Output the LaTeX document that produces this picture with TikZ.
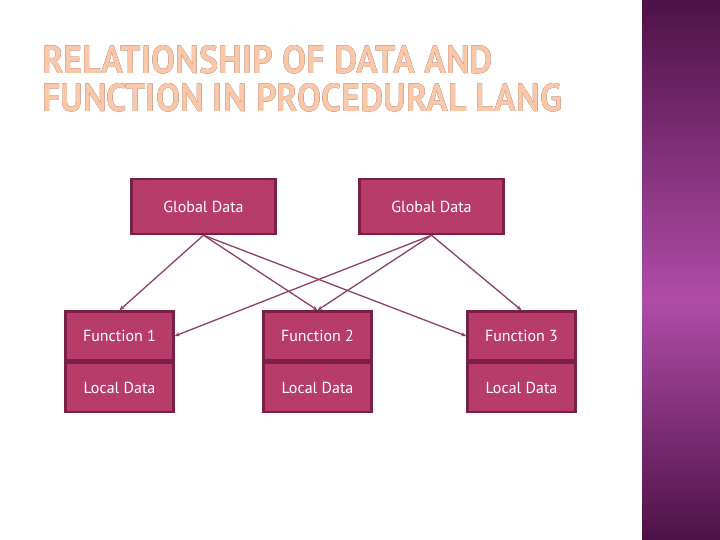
\documentclass[tikz,border=0pt]{standalone}
\usepackage{fontspec}
\setmainfont{PT Sans}
\usepackage[outline]{contour}
\contourlength{0.6pt}
\usetikzlibrary{arrows.meta}
\definecolor{boxfill}{HTML}{B83C6A}
\definecolor{boxline}{HTML}{7A2048}
\definecolor{peach}{HTML}{F8C8A8}
\definecolor{ttl}{HTML}{6A2030}
\definecolor{pdark}{HTML}{4E1246}
\definecolor{pmid}{HTML}{B04CA8}
\tikzset{
  gbox/.style={draw=boxline,line width=2.5pt,fill=boxfill,minimum width=144pt,minimum height=55pt,text=white,font=\fontsize{16}{18}\selectfont},
  fbox/.style={draw=boxline,line width=2.5pt,fill=boxfill,minimum width=108pt,minimum height=49pt,text=white,font=\fontsize{16}{18}\selectfont},
  conn/.style={draw=boxline!85!white,line width=1.3pt,-{Stealth[length=5pt,width=4pt]}}
}
\begin{document}
\begin{tikzpicture}[x=1pt,y=-1pt]
\useasboundingbox (0,0) rectangle (720,540);
\fill[white] (0,0) rectangle (720,540);
\shade[top color=pdark,bottom color=pmid] (642,0) rectangle (720,300);
\shade[top color=pmid,bottom color=pdark] (642,300) rectangle (720,540);
\node[anchor=west,inner sep=0] (t1) at (42,60) {\resizebox{451pt}{28pt}{\bfseries\contour{ttl}{\textcolor{peach}{RELATIONSHIP OF DATA AND}}}};
\node[anchor=west,inner sep=0] (t2) at (42,98) {\resizebox{520pt}{28pt}{\bfseries\contour{ttl}{\textcolor{peach}{FUNCTION IN PROCEDURAL LANG}}}};
\node[gbox] (g1) at (203.5,206.5) {Global Data};
\node[gbox] (g2) at (431.5,206.5) {Global Data};
\node[fbox] (f1) at (119.5,336) {Function 1};
\node[fbox,anchor=north] (l1) at (f1.south) {Local Data};
\node[fbox] (f2) at (317.5,336) {Function 2};
\node[fbox,anchor=north] (l2) at (f2.south) {Local Data};
\node[fbox] (f3) at (521.5,336) {Function 3};
\node[fbox,anchor=north] (l3) at (f3.south) {Local Data};
\draw[conn] (g1.south) -- (f1.north);
\draw[conn] (g1.south) -- (f2.north);
\draw[conn] (g1.south) -- (f3.west);
\draw[conn] (g2.south) -- (f1.east);
\draw[conn] (g2.south) -- (f2.north);
\draw[conn] (g2.south) -- (f3.north);
\end{tikzpicture}
\end{document}
